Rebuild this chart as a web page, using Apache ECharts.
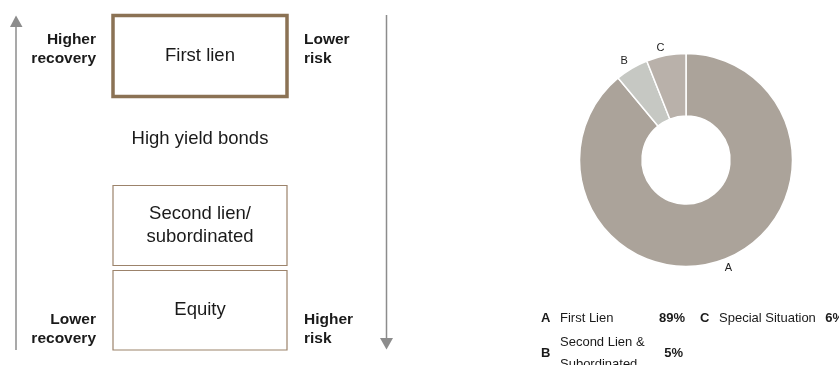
<!DOCTYPE html>
<html>
<head>
<meta charset="utf-8">
<script src="https://cdn.jsdelivr.net/npm/echarts@6/dist/echarts.min.js"></script>
<style>
  html, body { margin: 0; padding: 0; background: #fff; }
  #main { width: 839px; height: 365px; }
</style>
</head>
<body>
<div id="main"></div>
<script>
// portfolio split (donut)
const segCodes = ['A', 'B', 'C'];
const segNames = ['First Lien', 'Second Lien &\nSubordinated', 'Special Situation'];
const segShares = [89, 5, 6];
const segColors = ['#aba39a', '#c6c8c3', '#b9b1aa'];

// capital structure diagram texts
const tierLabels = ['First lien', 'High yield bonds', 'Second lien/\nsubordinated', 'Equity'];
const recoveryLabels = ['Higher\nrecovery', 'Lower\nrecovery'];
const riskLabels = ['Lower\nrisk', 'Higher\nrisk'];

const FONT = '"Liberation Sans", Arial, sans-serif';
const INK = '#1a1a1a';
const ARROW = '#8c8c8c';

const chart = echarts.init(document.getElementById('main'));

function txt(text, x, y, size, weight, align, lineHeight) {
  return {
    type: 'text',
    silent: true,
    style: {
      text: text, x: x, y: y,
      fill: INK,
      fontSize: size, fontWeight: weight, fontFamily: FONT,
      align: align, textAlign: align,
      verticalAlign: 'middle', textVerticalAlign: 'middle',
      lineHeight: lineHeight
    }
  };
}

// boxes: [x, y, w, h, stroke width]
const boxes = [
  [113, 15.5, 174, 81, 3.5],
  null,
  [113, 185.5, 174, 80, 1.2],
  [113, 270.5, 174, 79.5, 1.2]
];
const tierY = [56, 139, 225, 310];

const diagram = [];
// up arrow on the left
diagram.push({ type: 'line', silent: true, shape: { x1: 16, y1: 26, x2: 16, y2: 350 }, style: { stroke: ARROW, lineWidth: 1.5 } });
diagram.push({ type: 'polygon', silent: true, shape: { points: [[16, 15.5], [10, 27], [22.5, 27]] }, style: { fill: ARROW } });
// down arrow on the right
diagram.push({ type: 'line', silent: true, shape: { x1: 386.5, y1: 15, x2: 386.5, y2: 339 }, style: { stroke: ARROW, lineWidth: 1.5 } });
diagram.push({ type: 'polygon', silent: true, shape: { points: [[380, 338], [393, 338], [386.5, 349.5]] }, style: { fill: ARROW } });

tierLabels.forEach((label, i) => {
  const b = boxes[i];
  if (b) {
    diagram.push({
      type: 'rect', silent: true,
      shape: { x: b[0], y: b[1], width: b[2], height: b[3] },
      style: { fill: 'none', stroke: i === 0 ? '#8b7254' : '#9c836b', lineWidth: b[4] }
    });
  }
  diagram.push(txt(label, 200, tierY[i], 18.5, 'normal', 'center', 23));
});

const sideY = [49, 329];
recoveryLabels.forEach((label, i) => diagram.push(txt(label, 96, sideY[i], 15.5, 'bold', 'right', 18.5)));
riskLabels.forEach((label, i) => diagram.push(txt(label, 304, sideY[i], 15.5, 'bold', 'left', 18.5)));

// key below the donut: [column x, row y] per segment
const keyCells = [[541, 318], [541, 353], [700, 318]];
const keyValueRight = [144, 142, 144];
segCodes.forEach((code, i) => {
  const c = keyCells[i];
  diagram.push(txt(code, c[0], c[1], 13, 'bold', 'left'));
  diagram.push(txt(segNames[i], c[0] + 19, c[1], 13, 'normal', 'left', 22));
  diagram.push(txt(segShares[i] + '%', c[0] + keyValueRight[i], c[1], 13, 'bold', 'right'));
});

chart.setOption({
  animation: false,
  backgroundColor: '#fff',
  graphic: { elements: diagram },
  series: [{
    type: 'pie',
    center: [686, 160],
    radius: [44, 106.5],
    startAngle: 90,
    clockwise: true,
    avoidLabelOverlap: false,
    silent: true,
    itemStyle: { borderColor: '#fff', borderWidth: 1.5 },
    label: {
      show: true,
      position: 'outside',
      formatter: p => segCodes[p.dataIndex],
      fontSize: 11,
      fontFamily: FONT,
      color: '#222',
      distanceToLabelLine: 0
    },
    labelLine: { show: false, length: 8, length2: 0 },
    emphasis: { disabled: true },
    data: segShares.map((v, i) => ({ value: v, name: segNames[i], itemStyle: { color: segColors[i] } }))
  }]
});
</script>
</body>
</html>
